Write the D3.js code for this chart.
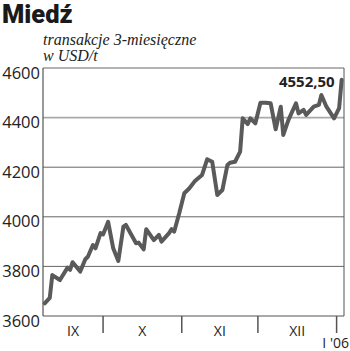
<!DOCTYPE html>
<html>
<head>
<meta charset="utf-8">
<script src="https://cdn.jsdelivr.net/npm/d3@7"></script>
<style>
  body { margin: 0; background: #fff; }
  svg { display: block; }
  .ylab { font-family: "Open Sans", sans-serif; font-size: 16.5px; fill: #222; }
  .xlab { font-family: "Open Sans", sans-serif; font-size: 14px; fill: #222; }
</style>
</head>
<body>
<div id="chart"></div>
<script>
// Notowania miedzi, transakcje 3-miesieczne (USD/t)
var dates = [
	"2005-09-08","2005-09-10","2005-09-11","2005-09-14","2005-09-17","2005-09-18",
	"2005-09-19","2005-09-22","2005-09-24","2005-09-25","2005-09-27","2005-09-28",
	"2005-09-30","2005-10-01","2005-10-03","2005-10-05","2005-10-07","2005-10-09",
	"2005-10-10","2005-10-14","2005-10-15","2005-10-17","2005-10-18","2005-10-21",
	"2005-10-23","2005-10-24","2005-10-27","2005-10-28","2005-10-29","2005-10-31",
	"2005-11-02","2005-11-04","2005-11-06","2005-11-07","2005-11-09","2005-11-11",
	"2005-11-13","2005-11-15","2005-11-17","2005-11-19","2005-11-20","2005-11-22",
	"2005-11-24","2005-11-25","2005-11-27","2005-11-28","2005-11-30","2005-12-02",
	"2005-12-04","2005-12-06","2005-12-08","2005-12-10","2005-12-11","2005-12-13",
	"2005-12-16","2005-12-17","2005-12-19","2005-12-20","2005-12-23","2005-12-25",
	"2005-12-26","2005-12-28","2005-12-31","2006-01-02","2006-01-03"
];
var prices = [
	3651, 3673, 3765, 3745, 3795, 3786,
	3817, 3779, 3829, 3839, 3886, 3873,
	3934, 3929, 3980, 3873, 3822, 3960,
	3967, 3893, 3896, 3869, 3950, 3906,
	3927, 3900, 3934, 3950, 3940, 4014,
	4095, 4115, 4142, 4151, 4169, 4232,
	4222, 4088, 4108, 4209, 4218, 4222,
	4263, 4397, 4374, 4397, 4377, 4460,
	4460, 4458, 4353, 4444, 4330, 4390,
	4458, 4417, 4431, 4411, 4444, 4451,
	4491, 4444, 4397, 4438, 4552.5
];
var yTicks = [3600, 3800, 4000, 4200, 4400, 4600];
var months = ["IX", "X", "XI", "XII"];
var monthStarts = ["2005-10-01", "2005-11-01", "2005-12-01", "2006-01-01"];
var lastLabel = "4552,50";

var parse = d3.timeParse("%Y-%m-%d");
var data = dates.map(function (d, i) { return { date: parse(d), value: prices[i] }; });

var width = 350, height = 351;
var plotLeft = 43, plotRight = 344, plotTop = 68, plotBottom = 316;

var svg = d3.select("#chart").append("svg")
	.attr("width", width)
	.attr("height", height);

var x = d3.scaleTime()
	.domain([new Date(2005, 8, 7, 8), new Date(2006, 0, 3, 22)])
	.range([plotLeft, plotRight]);

var y = d3.scaleLinear()
	.domain([3600, 4600])
	.range([plotBottom, plotTop]);

// title
svg.append("text")
	.attr("x", 2)
	.attr("y", 23)
	.style("font-family", "Roboto, sans-serif")
	.style("font-weight", "900")
	.style("font-size", "25.5px")
	.style("fill", "#1a1a1a")
	.text("Miedź");

svg.append("text")
	.attr("x", 43)
	.attr("y", 45)
	.style("font-family", "'Liberation Serif', serif")
	.style("font-style", "italic")
	.style("font-size", "16px")
	.style("fill", "#222")
	.text("transakcje 3-miesięczne");

svg.append("text")
	.attr("x", 43)
	.attr("y", 61)
	.style("font-family", "'Liberation Serif', serif")
	.style("font-style", "italic")
	.style("font-size", "16px")
	.style("fill", "#222")
	.text("w USD/t");

// grid lines
svg.append("g").selectAll("line")
	.data(yTicks.filter(function (t) { return t > 3600; }))
	.enter().append("line")
	.attr("x1", plotLeft)
	.attr("x2", plotRight)
	.attr("y1", function (d) { return y(d); })
	.attr("y2", function (d) { return y(d); })
	.attr("stroke", function (d) { return d == 4400 ? "#aaa" : "#666"; })
	.attr("stroke-width", function (d) { return d == 4400 ? 1.6 : 1; });

// y labels
svg.append("g").selectAll("text")
	.data(yTicks)
	.enter().append("text")
	.attr("class", "ylab")
	.attr("x", 40)
	.attr("y", function (d) { return y(d) + 10.5; })
	.attr("text-anchor", "end")
	.text(function (d) { return d; });

// frame: left, bottom, right
svg.append("line").attr("x1", plotLeft).attr("x2", plotLeft).attr("y1", plotTop).attr("y2", plotBottom)
	.attr("stroke", "#555").attr("stroke-width", 1.2);
svg.append("line").attr("x1", plotLeft).attr("x2", plotRight).attr("y1", plotBottom).attr("y2", plotBottom)
	.attr("stroke", "#555").attr("stroke-width", 1.2);
svg.append("line").attr("x1", plotRight).attr("x2", plotRight).attr("y1", plotTop).attr("y2", plotBottom)
	.attr("stroke", "#555").attr("stroke-width", 1);

// month ticks
var bounds = monthStarts.map(parse);
svg.append("g").selectAll("line")
	.data(bounds)
	.enter().append("line")
	.attr("x1", function (d) { return x(d); })
	.attr("x2", function (d) { return x(d); })
	.attr("y1", plotBottom)
	.attr("y2", plotBottom + 17)
	.attr("stroke", "#555")
	.attr("stroke-width", 1.5);

// month labels, centred on visible part of each month
var edges = [x.domain()[0]].concat(bounds);
svg.append("g").selectAll("text")
	.data(months)
	.enter().append("text")
	.attr("class", "xlab")
	.attr("x", function (d, i) { return (x(edges[i]) + x(edges[i + 1])) / 2; })
	.attr("y", 336)
	.attr("text-anchor", "middle")
	.text(function (d) { return d; });

svg.append("text")
	.attr("class", "xlab")
	.attr("x", 349)
	.attr("y", 348)
	.attr("text-anchor", "end")
	.text("I '06");

// price line
var line = d3.line()
	.x(function (d) { return x(d.date); })
	.y(function (d) { return y(d.value); });

svg.append("path")
	.datum(data)
	.attr("d", line)
	.attr("fill", "none")
	.attr("stroke", "#5a5a5a")
	.attr("stroke-width", 4)
	.attr("stroke-linejoin", "round")
	.attr("stroke-linecap", "round");

// last value
var last = data[data.length - 1];
svg.append("text")
	.attr("x", x(last.date) - 7)
	.attr("y", y(last.value) + 7)
	.attr("text-anchor", "end")
	.style("font-family", "'Open Sans', sans-serif")
	.style("font-weight", "bold")
	.style("font-size", "15px")
	.style("fill", "#222")
	.text(lastLabel);
</script>
</body>
</html>
